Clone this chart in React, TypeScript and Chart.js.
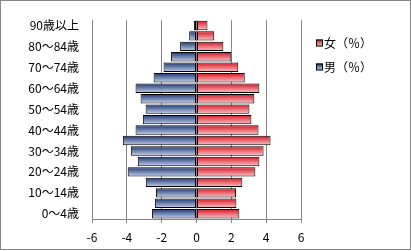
import React, { useEffect, useRef } from "react";
import { Chart, registerables } from "chart.js";

Chart.register(...registerables);

const categories = [
  "0～4歳", "5～9歳", "10～14歳", "15～19歳", "20～24歳", "25～29歳", "30～34歳",
  "35～39歳", "40～44歳", "45～49歳", "50～54歳", "55～59歳", "60～64歳", "65～69歳",
  "70～74歳", "75～79歳", "80～84歳", "85～89歳", "90歳以上",
];
const femaleValues = [2.46, 2.29, 2.27, 2.63, 3.38, 3.61, 3.85, 4.25, 3.56, 3.15, 3.04, 3.32, 3.61, 2.77, 2.4, 2.0, 1.54, 1.02, 0.63];
const maleValues = [-2.56, -2.39, -2.33, -2.91, -3.95, -3.37, -3.77, -4.23, -3.5, -3.08, -2.92, -3.21, -3.5, -2.46, -1.89, -1.46, -0.94, -0.42, -0.15];
const femaleLabel = "女（％）";
const maleLabel = "男（％）";

const FONT = '"Noto Sans CJK JP", "Noto Sans", sans-serif';
const GRID = "#868686";
const BAR_PCT = 0.9;

const RED_TOP = "#d8141f";
const RED_BOTTOM = "#f7c6cc";
const BLUE_TOP = "#1b3672";
const BLUE_BOTTOM = "#c6d0e9";

function makeGrad(top: string, bottom: string) {
  return (ctx: any) => {
    const chart = ctx.chart;
    const y = chart.scales && chart.scales.y;
    if (!y || ctx.type !== "data") return top;
    const cy = y.getPixelForValue(ctx.dataIndex);
    const h = (y.height / categories.length) * BAR_PCT;
    if (!isFinite(cy) || !isFinite(h) || h <= 0) return top;
    const g = chart.ctx.createLinearGradient(0, cy - h / 2, 0, cy + h / 2);
    g.addColorStop(0, top);
    g.addColorStop(1, bottom);
    return g;
  };
}

const decorPlugin = {
  id: "decor",
  afterDraw(chart: any) {
    const c = chart.ctx;
    c.save();
    c.strokeStyle = GRID;
    c.lineWidth = 1;
    c.strokeRect(0.5, 0.5, 410, 249);
    const items = [
      { label: femaleLabel, top: RED_TOP, bottom: RED_BOTTOM, y: 43 },
      { label: maleLabel, top: BLUE_TOP, bottom: BLUE_BOTTOM, y: 67 },
    ];
    c.font = `12px ${FONT}`;
    c.textBaseline = "middle";
    c.textAlign = "left";
    for (const it of items) {
      const g = c.createLinearGradient(0, it.y - 3.5, 0, it.y + 3.5);
      g.addColorStop(0, it.top);
      g.addColorStop(1, it.bottom);
      c.fillStyle = g;
      c.fillRect(316, it.y - 3.5, 7, 7);
      c.strokeStyle = "#000";
      c.strokeRect(316.5, it.y - 3, 6, 6);
      c.fillStyle = "#000";
      c.fillText(it.label, 324, it.y);
    }
    c.restore();
  },
};

export default function App() {
  const ref = useRef<HTMLCanvasElement | null>(null);
  useEffect(() => {
    document.body.style.margin = "0";
    const canvas = ref.current;
    if (!canvas) return;
    const chart = new Chart(canvas, {
      type: "bar",
      data: {
        labels: categories,
        datasets: [
          {
            label: femaleLabel,
            data: femaleValues,
            backgroundColor: makeGrad(RED_TOP, RED_BOTTOM),
            borderColor: "#000",
            borderWidth: 1,
            borderSkipped: false,
            barPercentage: BAR_PCT,
            categoryPercentage: 1,
          },
          {
            label: maleLabel,
            data: maleValues,
            backgroundColor: makeGrad(BLUE_TOP, BLUE_BOTTOM),
            borderColor: "#000",
            borderWidth: 1,
            borderSkipped: false,
            barPercentage: BAR_PCT,
            categoryPercentage: 1,
          },
        ],
      },
      options: {
        indexAxis: "y",
        responsive: false,
        animation: false,
        layout: { padding: { top: 16, right: 110, bottom: 0, left: 0 } },
        plugins: {
          legend: { display: false },
          tooltip: { enabled: false },
        },
        scales: {
          x: {
            stacked: true,
            min: -6,
            max: 6,
            ticks: {
              stepSize: 2,
              color: "#000",
              font: { family: FONT, size: 12 },
              padding: 7,
            },
            grid: { color: GRID, tickLength: 4, lineWidth: 1 },
            border: { color: GRID, width: 1 },
            afterFit: (scale: any) => {
              scale.height = 32;
            },
          },
          y: {
            stacked: true,
            reverse: true,
            ticks: {
              autoSkip: false,
              color: "#000",
              font: { family: FONT, size: 12 },
              padding: 13,
              callback: (_v: any, i: number) => (i % 2 === 0 ? categories[i] : ""),
            },
            grid: { display: false, drawTicks: false },
            border: { display: true, color: GRID, width: 1 },
            afterFit: (scale: any) => {
              scale.width = 92;
            },
          },
        },
      },
      plugins: [decorPlugin],
    } as any);
    return () => chart.destroy();
  }, []);
  return (
    <div style={{ width: 411, height: 251, background: "#fff" }}>
      <canvas ref={ref} width={411} height={251} />
    </div>
  );
}
